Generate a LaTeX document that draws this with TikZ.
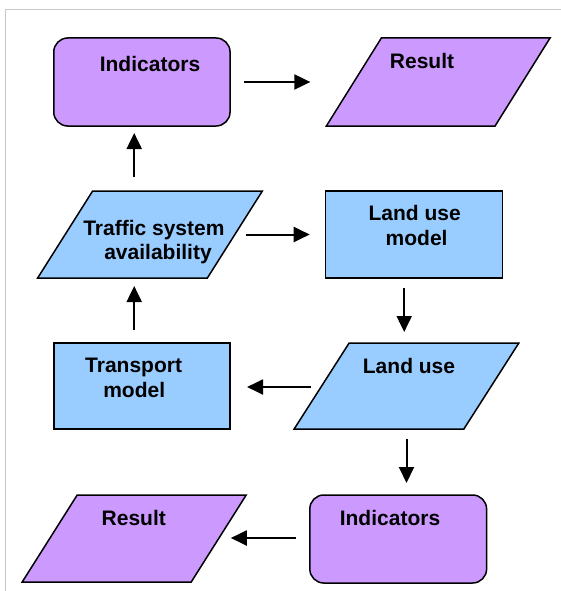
\documentclass[tikz,border=0pt]{standalone}
\usepackage{fontspec}
\setmainfont{Liberation Sans}
\usetikzlibrary{arrows.meta,calc}
\definecolor{purp}{HTML}{CC99FF}
\definecolor{blu}{HTML}{99CCFF}
\definecolor{frame}{HTML}{C8C8C8}
\tikzset{
  shp/.style={draw=black, line width=1.5pt, inner sep=0pt, outer sep=0pt},
  rbox/.style={shp, rectangle, rounded corners=14pt, fill=purp},
  bbox/.style={shp, rectangle, fill=blu},
  pbox/.style={rectangle, inner sep=0pt, outer sep=0pt},
  pline/.style={draw=black, line width=1.5pt, line join=miter},
  lbl/.style={font=\fontsize{21}{25}\selectfont\bfseries, inner sep=0pt, anchor=base},
  arr/.style={draw=black, line width=2pt, -{Triangle[length=16pt,width=15pt]}},
}
\newcommand{\myparallel}[2]{%
  \path[pline, fill=#2] (#1.south west) -- ([xshift=55pt]#1.north west) -- (#1.north east) -- ([xshift=-55pt]#1.south east) -- cycle;}
\begin{document}
\begin{tikzpicture}[x=1pt,y=-1pt]
\useasboundingbox (0,0) rectangle (561,591);
\fill[white] (0,0) rectangle (561,591);
\draw[frame, line width=1pt] (561,9.5) -- (5.5,9.5) -- (5.5,591);
% shapes
\node[rbox, minimum width=176.3pt, minimum height=88pt] (ind1) at (141.9,82) {};
\node[pbox, minimum width=223.7pt, minimum height=88pt] (res1) at (438.2,82) {};
\myparallel{res1}{purp}
\node[pbox, minimum width=224.7pt, minimum height=87pt] (trf) at (150,234.5) {};
\myparallel{trf}{blu}
\node[bbox, minimum width=177pt, minimum height=87pt] (lum) at (414.2,234.5) {};
\node[pbox, minimum width=224.7pt, minimum height=86pt] (lu) at (406.5,386) {};
\myparallel{lu}{blu}
\node[bbox, minimum width=176.3pt, minimum height=86pt] (tm) at (141.9,386) {};
\node[rbox, minimum width=176.8pt, minimum height=88pt] (ind2) at (398.2,539) {};
\node[pbox, minimum width=224pt, minimum height=87pt] (res2) at (134.2,538.5) {};
\myparallel{res2}{purp}
% labels
\node[lbl] (tind1) at (150,72) {Indicators};
\node[lbl] (tres1) at (422,69) {Result};
\node[lbl] (ttrf1) at (153.9,235) {Traffic system};
\node[lbl] (ttrf2) at (158,259) {availability};
\node[lbl] (tlum1) at (414.7,220) {Land use};
\node[lbl] (tlum2) at (416.6,245) {model};
\node[lbl] (tlu) at (409,373) {Land use};
\node[lbl] (ttm1) at (133.6,372) {Transport};
\node[lbl] (ttm2) at (134.2,397) {model};
\node[lbl] (tind2) at (390,525) {Indicators};
\node[lbl] (tres2) at (133.8,525) {Result};
% connectors
\draw[arr, shorten <=14pt, shorten >=16pt] (ind1.east) -- (ind1.east -| res1.west);
\draw[arr, shorten <=14pt, shorten >=7pt] ([xshift=-7.7pt]ind1.south |- trf.north) -- ([xshift=-7.7pt]ind1.south);
\draw[arr, shorten >=16pt] ([xshift=-16.5pt]trf.east) -- (trf.east -| lum.west);
\draw[arr, shorten <=10pt, shorten >=11pt] ([xshift=-10pt]lum.south) -- ([xshift=-10pt]lum.south |- lu.north);
\draw[arr, shorten >=17pt] ([xshift=17pt,yshift=-1pt]lu.west) -- ([yshift=-1pt]lu.west -| tm.east);
\draw[arr, shorten <=13pt, shorten >=8pt] ([xshift=-7.7pt]tm.north) -- ([xshift=-7.7pt]tm.north |- trf.south);
\draw[arr, shorten <=10pt, shorten >=12pt] (lu.south) -- (lu.south |- ind2.north);
\draw[arr, shorten <=14.3pt] ([yshift=1pt]ind2.west) -- ($(ind2.west -| res2.east)+(-15.4,-1)$);
\end{tikzpicture}
\end{document}
